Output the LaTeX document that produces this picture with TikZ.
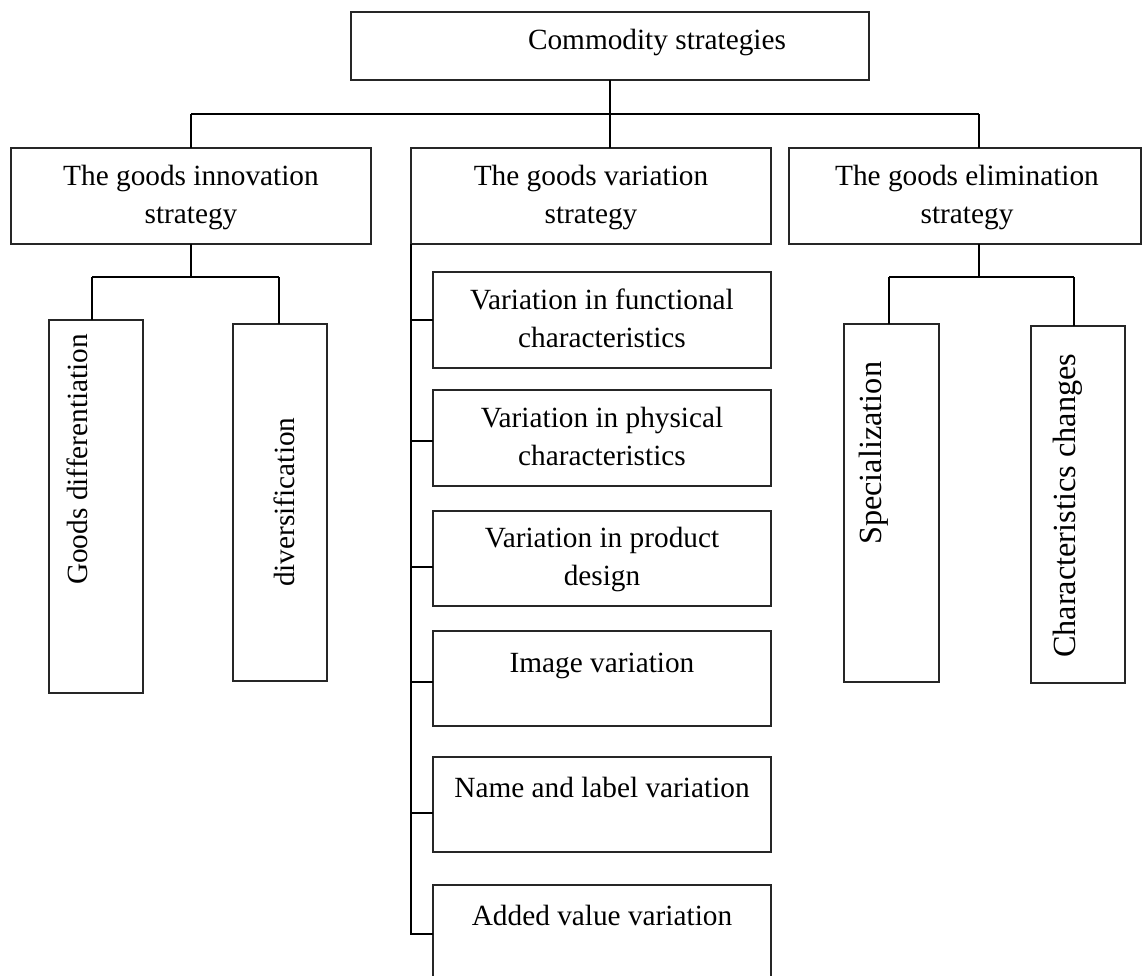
\documentclass[tikz,border=0pt]{standalone}
\usepackage{fontspec}
\setmainfont{Liberation Serif}
\begin{document}
\begin{tikzpicture}[x=1pt,y=-1pt,
  box/.style={draw=black!85, line width=1.1pt, inner sep=0pt, outer sep=0pt, anchor=north west},
  conn/.style={draw=black, line width=1.8pt},
  txt/.style={font=\fontsize{29.3}{37.5}\selectfont, inner sep=0pt, align=center},
  vtxt/.style={font=\fontsize{29.3}{37.5}\selectfont, inner sep=0pt, rotate=90, anchor=base west},
  vtxtb/.style={font=\fontsize{32.3}{38}\selectfont, inner sep=0pt, rotate=90, anchor=base west}]
\useasboundingbox (0,0) rectangle (1142,975);

% boxes
\node[box, minimum width=518pt, minimum height=68pt] (top) at (351,12) {};
\node[box, minimum width=360pt, minimum height=96pt] (lb) at (11,148) {};
\node[box, minimum width=360pt, minimum height=96pt] (mb) at (411,148) {};
\node[box, minimum width=352pt, minimum height=96pt] (rb) at (789,148) {};
\node[box, minimum width=94pt, minimum height=373pt] (gd) at (49,320) {};
\node[box, minimum width=94pt, minimum height=357pt] (dv) at (233,324) {};
\node[box, minimum width=95pt, minimum height=358pt] (sp) at (844,324) {};
\node[box, minimum width=94pt, minimum height=357pt] (cc) at (1031,326) {};
\node[box, minimum width=338pt, minimum height=96pt] (v1) at (433,272) {};
\node[box, minimum width=338pt, minimum height=96pt] (v2) at (433,390) {};
\node[box, minimum width=338pt, minimum height=95pt] (v3) at (433,511) {};
\node[box, minimum width=338pt, minimum height=95pt] (v4) at (433,631) {};
\node[box, minimum width=338pt, minimum height=95pt] (v5) at (433,757) {};
\node[box, minimum width=338pt, minimum height=100pt] (v6) at (433,885) {};

% texts
\node[txt, anchor=base] (toptxt) at (657,49) {Commodity strategies};
\node[txt, anchor=north] (lbtxt) at (191,165) {The goods innovation\\strategy};
\node[txt, anchor=north] (mbtxt) at (591,165) {The goods variation\\strategy};
\node[txt, anchor=north] (rbtxt) at (967,165) {The goods elimination\\strategy};
\node[txt, anchor=north] (v1txt) at (602,289) {Variation in functional\\characteristics};
\node[txt, anchor=north] (v2txt) at (602,407) {Variation in physical\\characteristics};
\node[txt, anchor=north] (v3txt) at (602,527) {Variation in product\\design};
\node[txt, anchor=base] (v4txt) at (602,672) {Image variation};
\node[txt, anchor=base] (v5txt) at (602,797) {Name and label variation};
\node[txt, anchor=base] (v6txt) at (602,925) {Added value variation};
\node[vtxt] (gdtxt) at (87,585) {Goods differentiation};
\node[vtxt] (dvtxt) at (294,587) {diversification};
\node[vtxtb] (sptxt) at (881,545) {Specialization};
\node[vtxtb] (cctxt) at (1075,658) {Characteristics changes};

% junction coordinates
\coordinate (j0) at (610,114);
\coordinate (jL) at (191,114);
\coordinate (jR) at (979,114);
\coordinate (lj) at (191,277);
\coordinate (gl) at (92,277);
\coordinate (gr) at (279,277);
\coordinate (rj) at (979,277);
\coordinate (sl) at (889,277);
\coordinate (sr) at (1074,277);
\coordinate (spend) at (411,935);
\coordinate (t1) at (411,320);
\coordinate (t2) at (411,441);
\coordinate (t3) at (411,567);
\coordinate (t4) at (411,682);
\coordinate (t5) at (411,813);
\coordinate (t6) at (411,934);

% connectors
\draw[conn] (top.south) -- (j0);
\draw[conn] (jL) -- (jR);
\draw[conn] (jL) -- (jL |- lb.north);
\draw[conn] (j0) -- (j0 |- mb.north);
\draw[conn] (jR) -- (jR |- rb.north);

\draw[conn] (lb.south) -- (lj);
\draw[conn] (gl) -- (gr);
\draw[conn] (gl) -- (gl |- gd.north);
\draw[conn] (gr) -- (gr |- dv.north);

\draw[conn] (jR |- rb.south) -- (rj);
\draw[conn] (sl) -- (sr);
\draw[conn] (sl) -- (sl |- sp.north);
\draw[conn] (sr) -- (sr |- cc.north);

\draw[conn] (mb.south west) -- (spend);
\draw[conn] (t1) -- (t1 -| v1.west);
\draw[conn] (t2) -- (t2 -| v2.west);
\draw[conn] (t3) -- (t3 -| v3.west);
\draw[conn] (t4) -- (t4 -| v4.west);
\draw[conn] (t5) -- (t5 -| v5.west);
\draw[conn] (t6) -- (t6 -| v6.west);
\end{tikzpicture}
\end{document}
